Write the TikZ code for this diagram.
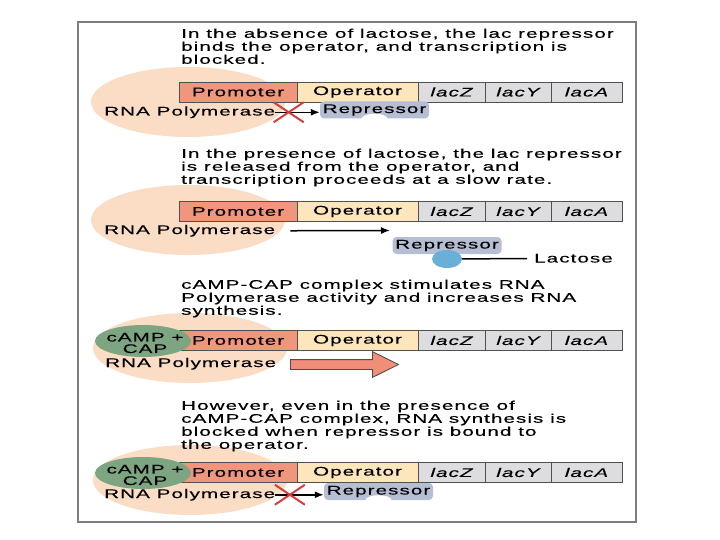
\documentclass[tikz,border=0pt]{standalone}
\usepackage{fontspec}
\setmainfont{Liberation Sans}[FakeStretch=1.65,LetterSpace=8.5,FakeBold=0.3]
\usetikzlibrary{positioning,arrows.meta,shapes.geometric,shapes.arrows,shapes.misc}

\definecolor{peach}{RGB}{250,221,196}
\definecolor{promo}{RGB}{240,150,125}
\definecolor{oper}{RGB}{253,230,187}
\definecolor{genegray}{RGB}{221,221,223}
\definecolor{barline}{RGB}{80,80,80}
\definecolor{capgreen}{RGB}{125,165,130}
\definecolor{repblue}{RGB}{182,190,211}
\definecolor{lacblue}{RGB}{105,175,215}
\definecolor{xred}{RGB}{215,60,60}
\definecolor{framegray}{RGB}{125,125,125}

\begin{document}
\begin{tikzpicture}[x=1pt, y=-1pt,
    txt/.style={inner sep=0pt, font=\fontsize{12.5}{13}\selectfont},
    blurb/.style={txt, align=left, anchor=north west},
    genebox/.style={txt, draw=barline, line width=0.8pt, outer sep=0pt, minimum height=20},
    promobox/.style={genebox, fill=promo, minimum width=118, anchor=west},
    operbox/.style={genebox, fill=oper, minimum width=121},
    lacbox/.style={genebox, fill=genegray, font=\fontsize{12.5}{13}\selectfont\itshape},
    halo/.style={ellipse, fill=peach, minimum width=194, minimum height=70, inner sep=0pt},
    capblob/.style={ellipse, fill=capgreen, minimum width=96, minimum height=32, inner sep=0pt},
    captext/.style={txt, align=center, font=\fontsize{12.5}{11.5}\selectfont},
    repbox/.style={txt, fill=repblue, rounded corners=4pt, minimum width=109, minimum height=17},
    pol/.style={-{Latex[length=9pt,width=7pt]}, line width=1.5pt},
    blockx/.style={cross out, draw=xred, line width=2pt, minimum width=28, minimum height=18, inner sep=0pt},
    bigarrow/.style={single arrow, draw=black!70, line width=0.8pt, fill=promo!95!red, inner sep=4.5pt,
        minimum height=108, single arrow head extend=8pt, single arrow tip angle=53}
]
    \useasboundingbox (0,0) rectangle (720,540);

    % Frame
    \draw[framegray, line width=2pt] (78,22) rectangle (636,522);

    % Bar heights
    \pgfmathsetmacro{\ya}{92}
    \pgfmathsetmacro{\yb}{211.5}
    \pgfmathsetmacro{\yc}{340.5}
    \pgfmathsetmacro{\yd}{472.5}

    % Panel 1: no lactose
    \node[halo] (halo1) at (188,102) {};
    \node[blurb] (text1) at (181,28.5) {In the absence of lactose, the lac repressor\\
        binds the operator, and transcription is\\blocked.};
    \node[promobox] (pro1) at (179,\ya) {Promoter};
    \node[operbox, right=0pt of pro1] (op1) {Operator};
    \node[lacbox, minimum width=67, right=0pt of op1] (z1) {lacZ};
    \node[lacbox, minimum width=66, right=0pt of z1] (y1) {lacY};
    \node[lacbox, minimum width=71, right=0pt of y1] (a1) {lacA};
    \node[txt, anchor=base west] (rnap1) at (104,115.5) {RNA Polymerase};
    \node[repbox] (rep1) at (374.5,110) {Repressor};
    \fill[white] (rep1.south) ellipse (13pt and 5pt);
    \draw[pol] (rnap1.east) -- node[blockx, pos=0.3] (x1) {} (rnap1.east -| rep1.west);

    % Panel 2: lactose present
    \node[halo] (halo2) at (188,220) {};
    \node[blurb] (text2) at (181,148.5) {In the presence of lactose, the lac repressor\\
        is released from the operator, and\\transcription proceeds at a slow rate.};
    \node[promobox] (pro2) at (179,\yb) {Promoter};
    \node[operbox, right=0pt of pro2] (op2) {Operator};
    \node[lacbox, minimum width=67, right=0pt of op2] (z2) {lacZ};
    \node[lacbox, minimum width=66, right=0pt of z2] (y2) {lacY};
    \node[lacbox, minimum width=71, right=0pt of y2] (a2) {lacA};
    \node[txt, anchor=base west] (rnap2) at (104,234) {RNA Polymerase};
    \coordinate (tip2) at (390,230.5);
    \draw[pol] ([xshift=15pt]rnap2.east) -- (tip2);
    \node[repbox] (rep2) at (447,245.5) {Repressor};
    \node[ellipse, fill=lacblue, minimum width=30, minimum height=18, inner sep=0pt] (lac2) at (447,259) {};
    \node[txt, anchor=base west] (lactxt) at (534,262.5) {Lactose};
    \draw[line width=1.5pt, shorten >=7pt] (lac2) -- (lactxt);

    % Panel 3: cAMP-CAP
    \node[halo] (halo3) at (190,348) {};
    \node[blurb] (text3) at (181,279.5) {cAMP-CAP complex stimulates RNA\\
        Polymerase activity and increases RNA\\synthesis.};
    \node[promobox] (pro3) at (179,\yc) {Promoter};
    \node[operbox, right=0pt of pro3] (op3) {Operator};
    \node[lacbox, minimum width=67, right=0pt of op3] (z3) {lacZ};
    \node[lacbox, minimum width=66, right=0pt of z3] (y3) {lacY};
    \node[lacbox, minimum width=71, right=0pt of y3] (a3) {lacA};
    \node[capblob] (cap3) at (143,341) {};
    \node[captext] (capt3) at (145,343) {cAMP +\\CAP};
    \node[txt, anchor=base west] (rnap3) at (105,367) {RNA Polymerase};
    \node[bigarrow, anchor=west] (push3) at (290,364.5) {};

    % Panel 4: cAMP-CAP and repressor
    \node[halo] (halo4) at (190,480) {};
    \node[blurb] (text4) at (181,400.5) {However, even in the presence of\\
        cAMP-CAP complex, RNA synthesis is\\blocked when repressor is bound to\\the operator.};
    \node[promobox] (pro4) at (179,\yd) {Promoter};
    \node[operbox, right=0pt of pro4] (op4) {Operator};
    \node[lacbox, minimum width=67, right=0pt of op4] (z4) {lacZ};
    \node[lacbox, minimum width=66, right=0pt of z4] (y4) {lacY};
    \node[lacbox, minimum width=71, right=0pt of y4] (a4) {lacA};
    \node[capblob] (cap4) at (143,473) {};
    \node[captext] (capt4) at (145,475) {cAMP +\\CAP};
    \node[txt, anchor=base west] (rnap4) at (104,498) {RNA Polymerase};
    \node[repbox] (rep4) at (378.5,491.5) {Repressor};
    \fill[white] (rep4.south) ellipse (13pt and 5pt);
    \draw[pol] (rnap4.east) -- node[blockx, pos=0.3] (x4) {} (rnap4.east -| rep4.west);
\end{tikzpicture}
\end{document}
